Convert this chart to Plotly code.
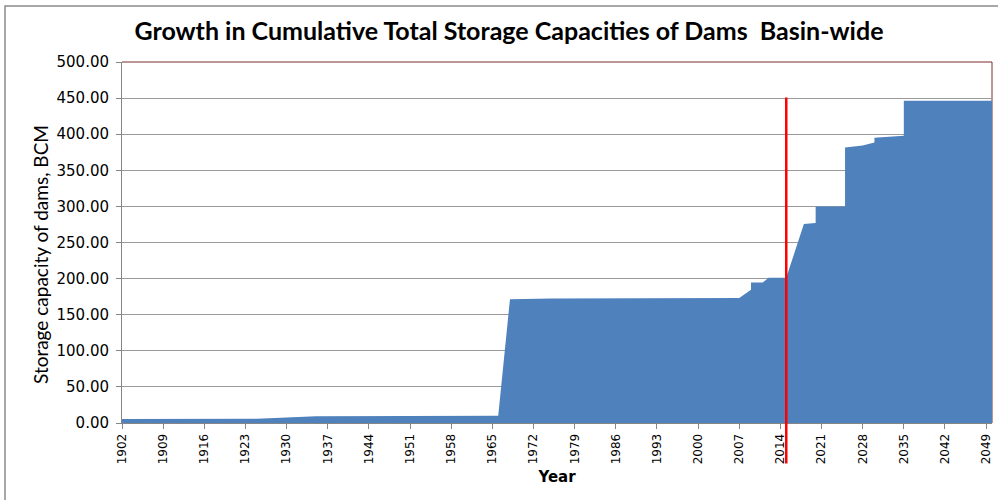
import plotly.graph_objects as go

# ---- data ----
years = [1902, 1925, 1935, 1966, 1968, 1975, 2007, 2009, 2009, 2011, 2012, 2015,
         2018, 2020, 2020, 2025, 2025, 2028, 2030, 2030, 2035, 2035, 2050]
capacity_bcm = [5.5, 5.8, 9.2, 10.1, 171.5, 172.5, 173.0, 184.6, 194.7, 194.7, 201.2, 201.2,
                275.6, 277.0, 300.0, 300.0, 381.7, 384.5, 388.6, 395.2, 397.9, 446.4, 446.4]

tick_years = list(range(1902, 2050, 7))
tick_labels = [str(y) for y in tick_years]

current_year = 2015
current_line_top = 451
current_line_bottom = -56

title_text = "Growth in Cumulative Total Storage Capacities of Dams  Basin-wide"
y_title = "Storage capacity of dams, BCM"
x_title = "Year"

# ---- layout constants ----
W, H = 998, 500
ML, MR, MT, MB = 122, 6, 62, 77
PW, PH = W - ML - MR, H - MT - MB
Y_MAX = 500
X_RANGE = [1902, 2050]

def px_to_paper_x(px):
    return (px - ML) / PW

def px_to_paper_y(py):
    return (H - MB - py) / PH

fig = go.Figure()
fig.add_trace(go.Scatter(
    x=years, y=capacity_bcm, mode="lines", fill="tozeroy",
    line=dict(width=0, color="#4F81BD"), fillcolor="#4F81BD",
    hoverinfo="x+y", showlegend=False,
))

shapes = [
    # outer chart border (extends past the picture on the right/bottom)
    dict(type="rect", xref="paper", yref="paper",
         x0=px_to_paper_x(5), x1=px_to_paper_x(1100),
         y0=px_to_paper_y(600), y1=px_to_paper_y(6),
         line=dict(color="#8C8C8C", width=1.5), layer="below"),
    # plot-area border (maroon) top and right
    dict(type="line", xref="paper", yref="paper", x0=0, x1=1, y0=1, y1=1,
         line=dict(color="#7B2C2C", width=1), layer="above"),
    dict(type="line", xref="paper", yref="paper", x0=1, x1=1, y0=0, y1=1,
         line=dict(color="#7B2C2C", width=1), layer="below"),
    # current year marker
    dict(type="line", xref="x", yref="paper", x0=current_year, x1=current_year,
         y0=current_line_bottom / Y_MAX, y1=current_line_top / Y_MAX,
         line=dict(color="#FF0000", width=2.5), layer="above"),
]

annotations = [
    dict(text=y_title, xref="paper", yref="paper",
         x=px_to_paper_x(40), y=px_to_paper_y(255), xanchor="center", yanchor="middle",
         textangle=-90, showarrow=False,
         font=dict(family="Lato", size=19, color="black")),
]

fig.update_layout(
    width=W, height=H,
    margin=dict(l=ML, r=MR, t=MT, b=MB, pad=0),
    paper_bgcolor="white", plot_bgcolor="white",
    title=dict(text="<b>" + title_text + "</b>", x=0.51, xanchor="center",
               y=1 - 31 / H, yanchor="middle",
               font=dict(family="Lato", size=25, color="black")),
    shapes=shapes,
    annotations=annotations,
    xaxis=dict(range=X_RANGE, tickmode="array", tickvals=tick_years, ticktext=tick_labels,
               tickangle=-90, ticks="outside", ticklen=5, tickcolor="#868686",
               tickfont=dict(family="DejaVu Sans", size=12, color="black"),
               showline=True, linecolor="#868686", linewidth=1, showgrid=False,
               zeroline=False,
               title=dict(text="<b>" + x_title + "</b>", standoff=8,
                          font=dict(family="DejaVu Sans", size=15, color="black"))),
    yaxis=dict(range=[0, Y_MAX], dtick=50, tickformat=".2f", ticks="outside", ticklen=5,
               tickcolor="#868686", ticklabelstandoff=4,
               tickfont=dict(family="DejaVu Sans", size=15, color="black"),
               showline=True, linecolor="#868686", linewidth=1,
               showgrid=True, gridcolor="#9A9A9A", gridwidth=1, zeroline=False),
)

fig.write_html("out.html", config={"displayModeBar": False},
               post_script="document.body.style.margin='0';")
